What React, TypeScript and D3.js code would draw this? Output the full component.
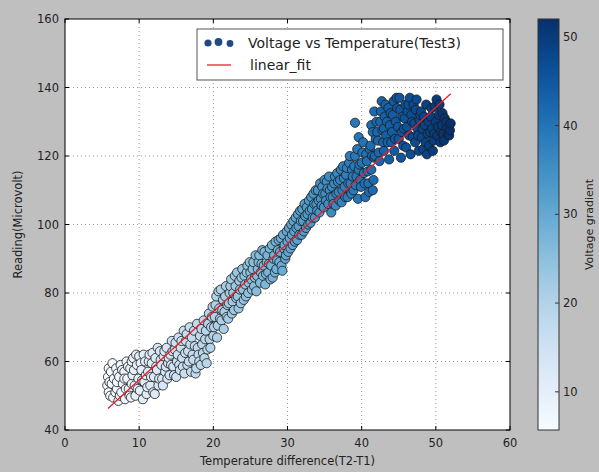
import React from "react";
import * as d3 from "d3";

// [temperature difference, reading]
const samples: [number, number][] = [
  [5.7,53],[5.8,55.5],[5.9,51],[6.2,57],[6.3,53.5],[6.5,49.5],[6.6,55],[6.9,58],[7.0,52],[7.2,48.5],
  [7.3,55.5],[7.5,59],[7.6,51],[7.8,53.5],[8.0,57],[8.1,49],[8.3,60],[8.4,55],[8.6,52],[8.8,58],
  [8.9,49.5],[9.1,56],[9.2,61],[9.4,53],[9.5,50],[9.7,59],[9.9,55],[10.0,61.5],[10.1,51.5],[10.3,57.5],
  [10.5,49],[10.7,54],[10.8,60],[11.0,50.5],[11.2,57],[11.4,62],[11.5,53],[11.7,59.5],[11.9,51],[12.0,55.5],
  [12.2,61],[12.4,57.5],[12.6,53],[12.8,63],[13.0,59],[13.1,55],[13.3,61.5],[13.5,57],[13.7,64],[13.9,59.5],
  [14.1,56],[14.2,62],[14.4,66],[14.6,58.5],[14.8,63.5],[15.0,55.5],[15.1,60],[15.3,67],[15.5,57.5],[15.6,64],
  [15.8,61],[16.0,69],[16.1,56.5],[16.3,66],[16.5,59],[16.6,63],[16.8,70],[17.0,57],[17.1,67],[17.3,60.5],
  [17.5,64.5],[17.7,58],[17.8,71],[18.0,62],[18.2,67.5],[18.3,59],[18.5,65],[18.7,72],[18.8,61],[19.0,69],
  [19.2,63.5],[19.4,74],[19.5,66.5],[19.7,70],[19.9,76],[20.0,67.5],[20.2,73],[20.4,79],[20.6,70.5],[20.8,75.5],
  [21.0,81],[21.1,72],[21.3,78],[21.5,74.5],[21.7,82],[21.9,76.5],[22.0,72.5],[22.2,80],[22.4,84],[22.6,77.5],
  [22.8,75],[23.0,82],[23.2,86],[23.3,79],[23.5,83.5],[23.7,77],[23.9,87],[24.0,81],[24.2,85],[24.4,79],
  [24.6,88],[24.8,83],[25.0,86],[25.2,81],[25.4,89],[25.6,84.5],[25.8,80.5],[26.0,87],[26.2,91],[26.3,83],
  [26.5,88.5],[26.7,85],[26.9,92],[27.0,82.5],[27.2,89],[27.4,86],[27.6,93],[27.8,88],[28.0,84.5],[28.2,91],
  [28.4,95],[28.5,87],[28.7,92.5],[28.9,89],[29.1,96],[29.3,86.5],[29.5,93],[29.7,90],[29.9,98],[30.1,92],
  [30.3,96],[30.5,100],[30.7,94],[30.9,98],[31.1,102],[31.3,95.5],[31.5,99.5],[31.7,104],[31.9,97],[32.1,101],
  [32.3,106],[32.5,99],[32.7,103],[32.9,107],[33.1,100.5],[33.3,104.5],[33.5,109],[33.7,102],[33.9,106],[34.1,110],
  [34.3,103.5],[34.5,107.5],[34.7,111],[34.9,105],[35.1,109],[35.3,112.5],[35.5,106],[35.7,110],[35.9,103.5],[36.1,108],
  [36.3,112],[36.5,105.5],[36.7,115],[36.9,109.5],[37.1,113],[37.3,106.5],[37.5,117],[37.7,111],[37.9,114.5],[38.1,108],
  [38.3,118],[38.5,112],[38.7,116],[38.9,110],[39.1,120],[39.3,114],[39.5,107.5],[39.7,117.5],[39.9,111],[40.1,121],
  [40.3,115],[40.5,108],[40.7,118.5],[40.9,112],[41.1,122],[41.3,116],[41.5,110],[41.7,119.5],[41.9,125],
  [39.1,129.7],[39.6,125.5],
  [41.2,123],[41.5,127],[41.8,120],[42.0,130],[42.2,124.5],[42.4,118.5],[42.6,133],[42.8,127.5],[43.0,121.5],[43.2,135],
  [43.4,130],[43.5,124],[43.7,119],[43.9,132.5],[44.1,127],[44.3,136],[44.4,121.5],[44.6,130],[44.8,134],[45.0,125],
  [45.1,137],[45.3,119.5],[45.5,131.5],[45.7,128],[45.9,135],[46.0,122.5],[46.2,133],[46.4,126],[46.6,120.5],[46.8,130],
  [47.0,135],[47.2,124],[47.4,136.5],[47.5,128],[47.7,121.5],[47.9,132],[48.1,125.5],[48.3,122],[48.5,129],[48.7,135],
  [48.9,126.5],[49.1,123],[49.3,131.5],[49.5,128],[49.7,124.5],[49.9,134.5],[50.0,130],[50.2,126],[50.4,132],[50.6,124],
  [50.8,129],[51.0,126.5],[51.2,131],[51.5,128],[51.8,126],[52.0,129.5],[51.9,127.5],[44.0,124],[45.6,123],[46.5,137],
  [43.0,128],[48.0,133],[49.0,130],[50.1,136.5]
];

// further points filling the dense band
const samplesExtra: [number, number][] = [
  [5.9,58],[6.1,50],[6.4,59.5],[6.8,51],[7.1,56.5],[7.4,50],[7.7,57.5],[8.2,52],[8.5,58.5],[8.7,50],
  [9.0,53.5],[9.3,57.5],[9.6,62],[9.8,52],[10.2,59.5],[10.4,54.5],[6.0,54],[7.0,54],[8.0,55],[9.0,60],
  [10.6,62],[10.9,56],[11.1,52.5],[11.3,60],[11.6,55.5],[11.8,62.5],[12.1,50.5],[12.3,58.5],[12.5,64],[12.7,55],
  [12.9,60.5],[13.2,53],[13.4,63],[13.6,58.5],[13.8,55],[14.0,61],
  [14.3,59],[14.5,63],[14.7,56],[14.9,65.5],[15.2,62],[15.4,59],[15.7,66],[15.9,58.5],[16.2,62.5],[16.4,68],
  [16.7,60],[16.9,65],[17.2,62],[17.4,69],[17.6,56.5],[17.9,64],[18.1,60],[18.4,69.5],[18.6,62.5],[18.9,66.5],
  [19.1,59.5],[19.3,71],[19.6,64],
  [19.8,73],[20.1,70],[20.3,76.5],[20.5,67],[20.7,80.5],[20.9,72.5],[21.2,75],[21.4,69.5],[21.6,79],[21.8,73],
  [22.1,77],[22.3,82],[22.5,74],[22.7,80],[22.9,85],[23.1,78.5],[23.4,75.5],[23.6,81],[23.8,84.5],[24.1,78],
  [24.3,82.5],[24.5,86],[24.7,80],[24.9,89],
  [25.1,84],[25.3,87],[25.5,82],[25.7,91],[25.9,85],[26.1,89],[26.4,86],[26.6,92.5],[26.8,88],[27.1,85.5],
  [27.3,91],[27.5,88.5],[27.7,84],[27.9,94],[28.1,90],[28.3,86],[28.6,89.5],[28.8,95.5],[29.0,92],[29.2,88],
  [29.4,97],[29.6,94],[29.8,91],[30.0,95],
  [30.2,99],[30.4,93],[30.6,97],[30.8,101],[31.0,95],[31.2,99],[31.4,103],[31.6,97],[31.8,101],[32.0,104.5],
  [32.2,98],[32.4,102.5],[32.6,105],[32.8,100],[33.0,104],[33.2,108],[33.4,102],[33.6,106],[33.8,110],[34.0,104],
  [34.2,107],[34.4,112],[34.6,105.5],[34.8,109],[35.0,113],[35.2,107],[35.4,110.5],[35.6,114],[35.8,108],
  [36.0,111],[36.2,106],[36.4,114],[36.6,109],[36.8,112.5],[37.0,107],[37.2,116],[37.4,110],[37.6,113.5],[37.8,108],
  [38.0,116.5],[38.2,112],[38.4,120],[38.6,109],[38.8,114],[39.0,117],[39.2,111.5],[39.4,122],[39.6,116],[39.8,113],
  [40.0,118],[40.2,124],[40.4,112],[40.6,120.5],[40.8,115.5],[41.0,109.5],[41.4,120],[41.6,113],
  [41.3,129],[41.7,133],[42.1,127],[42.3,121],[42.5,130],[42.7,136],[42.9,124],[43.1,131.5],[43.3,126],[43.6,134],
  [43.8,129],[44.2,132],[44.5,125],[44.7,137],[44.9,128.5],[45.2,133.5],[45.4,127],[45.8,131],[46.1,128.5],[46.3,135],
  [46.7,132],[46.9,125.5],[47.1,129.5],[47.3,133.5],[47.6,126],[47.8,130.5],[48.2,128],[48.4,131.5],[48.6,124],[48.8,120.5],
  [49.2,127],[49.4,134],[49.6,121.5],[49.8,126.5],[50.3,128.5],[50.5,135],[50.7,127],[50.9,132.5],[51.1,124.5],[51.4,130],
  [51.6,126.5]
];

const fitLine: [number, number][] = [[5.8, 46.3], [52.0, 138.2]];

const xTicks = [0, 10, 20, 30, 40, 50, 60];
const yTicks = [40, 60, 80, 100, 120, 140, 160];
const cbTicks = [10, 20, 30, 40, 50];

const scatterLabel = "Voltage vs Temperature(Test3)";
const fitLabel = "linear_fit";
const xTitle = "Temperature difference(T2-T1)";
const yTitle = "Reading(Microvolt)";
const cbTitle = "Voltage gradient";

const FONT = "'DejaVu Sans', sans-serif";

export default function App() {
  const L = 65, R = 510, T = 19, B = 430;
  const x = d3.scaleLinear().domain([0, 60]).range([L, R]);
  const y = d3.scaleLinear().domain([40, 160]).range([B, T]);

  const all = samples.concat(samplesExtra).slice().sort((a, b) => a[0] - b[0]);

  // colour value = temperature difference of each point
  const cVals = all.map((d) => d[0]);
  const cMin = d3.min(cVals) as number;
  const cMax = d3.max(cVals) as number;
  const color = d3.scaleSequential(d3.interpolateBlues).domain([cMin, cMax]);

  const cbL = 538, cbR = 559;
  const cbY = d3.scaleLinear().domain([cMin, cMax]).range([B, T]);

  const line = d3.line<[number, number]>().x((d) => x(d[0])).y((d) => y(d[1]));

  const stops = d3.range(0, 1.0001, 0.05);

  return (
    <svg width={599} height={472} style={{ position: "absolute", left: 0, top: 0 }} fontFamily={FONT}>
      <defs>
        <linearGradient id="cbGrad" x1="0" y1="1" x2="0" y2="0">
          {stops.map((s) => (
            <stop key={s} offset={s} stopColor={d3.interpolateBlues(s)} />
          ))}
        </linearGradient>
        <clipPath id="plotClip">
          <rect x={L} y={T} width={R - L} height={B - T} />
        </clipPath>
      </defs>
      <rect x={0} y={0} width={599} height={472} fill="#bfbfbf" />
      <rect x={L} y={T} width={R - L} height={B - T} fill="#ffffff" />

      {/* grid */}
      {xTicks.slice(1, -1).map((t) => (
        <line key={"gx" + t} x1={x(t)} x2={x(t)} y1={T} y2={B} stroke="#999" strokeWidth={1} strokeDasharray="1,3" />
      ))}
      {yTicks.slice(1, -1).map((t) => (
        <line key={"gy" + t} x1={L} x2={R} y1={y(t)} y2={y(t)} stroke="#999" strokeWidth={1} strokeDasharray="1,3" />
      ))}

      {/* scatter */}
      <g clipPath="url(#plotClip)">
        {all.map((d, i) => (
          <circle key={i} cx={x(d[0])} cy={y(d[1])} r={4.6} fill={color(d[0])} stroke="#1a1a1a" strokeWidth={0.8} />
        ))}
        <path d={line(fitLine) || ""} fill="none" stroke="#e8202a" strokeWidth={1.3} />
      </g>

      {/* frame */}
      <rect x={L} y={T} width={R - L} height={B - T} fill="none" stroke="#000" strokeWidth={1} />

      {/* ticks */}
      {xTicks.map((t) => (
        <g key={"tx" + t}>
          <line x1={x(t)} x2={x(t)} y1={B} y2={B - 4} stroke="#000" />
          <line x1={x(t)} x2={x(t)} y1={T} y2={T + 4} stroke="#000" />
          <text x={x(t)} y={447} textAnchor="middle" fontSize={11.5} fill="#222">{t}</text>
        </g>
      ))}
      {yTicks.map((t) => (
        <g key={"ty" + t}>
          <line x1={L} x2={L + 4} y1={y(t)} y2={y(t)} stroke="#000" />
          <line x1={R} x2={R - 4} y1={y(t)} y2={y(t)} stroke="#000" />
          <text x={59} y={y(t)} dy="0.35em" textAnchor="end" fontSize={11.5} fill="#222">{t}</text>
        </g>
      ))}

      {/* axis titles */}
      <text x={(L + R) / 2} y={465} textAnchor="middle" fontSize={11.5} fill="#222">{xTitle}</text>
      <text transform={`translate(22,${(T + B) / 2}) rotate(-90)`} textAnchor="middle" fontSize={11.5} fill="#222">{yTitle}</text>

      {/* legend */}
      <rect x={197} y={29} width={306} height={51} fill="#fff" stroke="#555" strokeWidth={1} />
      <circle cx={208} cy={43} r={3.6} fill="#1f4a86" />
      <circle cx={218.5} cy={42} r={3.9} fill="#1f4a86" />
      <circle cx={230} cy={43.5} r={3.4} fill="#1f4a86" />
      <text x={248} y={48} fontSize={14} fill="#222">{scatterLabel}</text>
      <line x1={207} x2={231} y1={65} y2={65} stroke="#e8202a" strokeWidth={1.3} />
      <text x={250} y={70} fontSize={14} fill="#222">{fitLabel}</text>

      {/* colorbar */}
      <rect x={cbL} y={T} width={cbR - cbL} height={B - T} fill="url(#cbGrad)" stroke="#333" strokeWidth={1} />
      {cbTicks.map((t) => (
        <g key={"cb" + t}>
          <line x1={cbR} x2={cbR - 4} y1={cbY(t)} y2={cbY(t)} stroke="#333" />
          <text x={563} y={cbY(t)} dy="0.35em" fontSize={11.5} fill="#222">{t}</text>
        </g>
      ))}
      <text transform={`translate(593,${(T + B) / 2}) rotate(-90)`} textAnchor="middle" fontSize={11} fill="#222">{cbTitle}</text>
    </svg>
  );
}
